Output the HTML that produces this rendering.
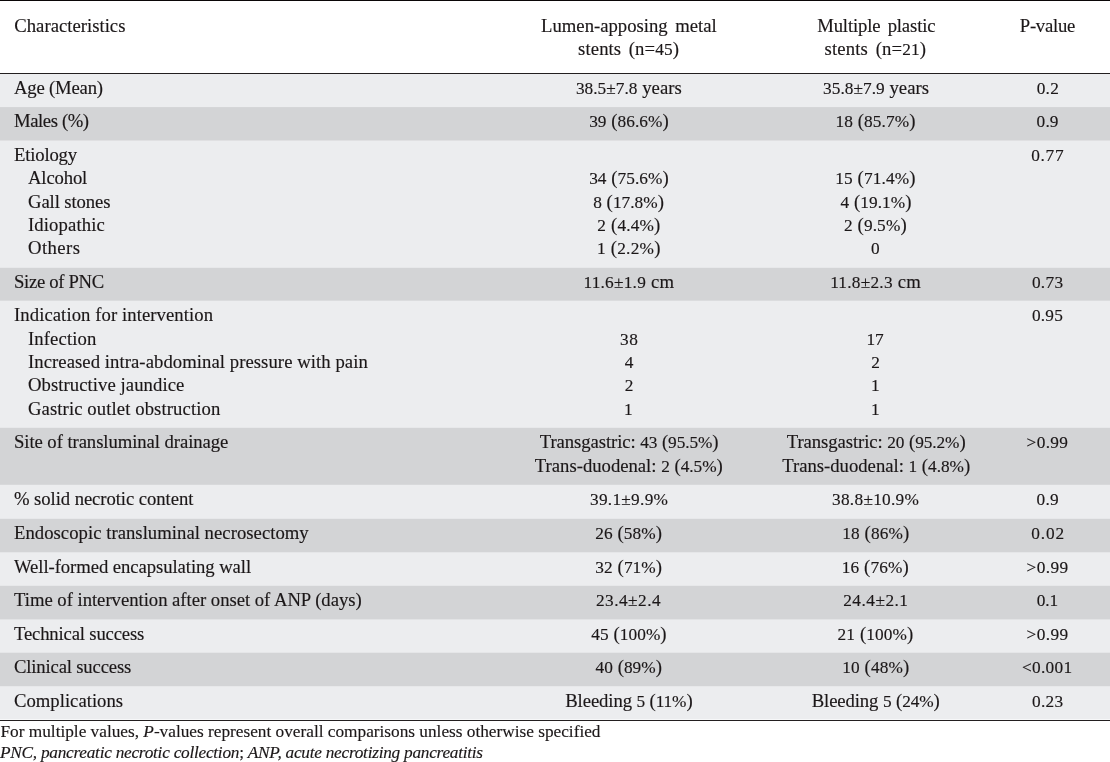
<!DOCTYPE html>
<html><head><meta charset="utf-8"><title>Table</title>
<style>
html,body{margin:0;padding:0;background:#fff}
body{width:1110px;height:762px;position:relative;overflow:hidden;font-family:"Liberation Serif","Times New Roman",serif;color:#1b1718;font-size:18.7px;-webkit-text-stroke:0.15px #1b1718}
.r{position:absolute;left:0;width:1110px}
.t{position:absolute;white-space:nowrap;line-height:24px;height:24px}
.n{font-size:17.3px}
.hl{position:absolute;left:0;width:1110px;background:#231f20}
.f{position:absolute;left:0;white-space:nowrap;font-size:17.3px;line-height:21px}
</style></head><body>

<div class="r" style="top:74px;height:646px;background:linear-gradient(to bottom,#ecedef 0px,#ecedef 33px,#d5d6d8 33px,#d5d6d8 34px,#d3d4d6 34px,#d3d4d6 66px,#e0e0e2 66px,#e0e0e2 67px,#ecedef 67px,#ecedef 193px,#e7e8ea 193px,#e7e8ea 194px,#d3d4d6 194px,#d3d4d6 226px,#dbdcde 226px,#dbdcde 227px,#ecedef 227px,#ecedef 353px,#e7e8ea 353px,#e7e8ea 354px,#d3d4d6 354px,#d3d4d6 410px,#d8d9db 410px,#d8d9db 411px,#ecedef 411px,#ecedef 444px,#e7e8ea 444px,#e7e8ea 445px,#d3d4d6 445px,#d3d4d6 478px,#e5e6e8 478px,#e5e6e8 479px,#ecedef 479px,#ecedef 511px,#e7e8ea 511px,#e7e8ea 512px,#d3d4d6 512px,#d3d4d6 545px,#e2e3e5 545px,#e2e3e5 546px,#ecedef 546px,#ecedef 578px,#e5e6e8 578px,#e5e6e8 579px,#d3d4d6 579px,#d3d4d6 612px,#e7e8ea 612px,#e7e8ea 613px,#ecedef 613px,#ecedef 645px,#f7f8f9 645px,#f7f8f9 646px)"></div>
<div class="hl" style="top:0;height:1px;background:#0a0607"></div>
<div class="hl" style="top:73px;height:1px"></div>
<div class="hl" style="top:720px;height:1px"></div>
<div class="t" style="top:14px;left:14.30px;letter-spacing:0.006px">Characteristics</div>
<div class="t" style="top:76px;left:14.00px;letter-spacing:-0.190px">Age (Mean)</div>
<div class="t" style="top:109px;left:14.00px;letter-spacing:-0.411px">Males (%)</div>
<div class="t" style="top:143px;left:14.00px;letter-spacing:-0.189px">Etiology</div>
<div class="t" style="top:166px;left:28.00px;letter-spacing:-0.151px">Alcohol</div>
<div class="t" style="top:190px;left:28.00px;letter-spacing:-0.106px">Gall stones</div>
<div class="t" style="top:213px;left:28.00px;letter-spacing:0.121px">Idiopathic</div>
<div class="t" style="top:236px;left:28.00px;letter-spacing:0.418px">Others</div>
<div class="t" style="top:270px;left:14.00px;letter-spacing:-0.327px">Size of PNC</div>
<div class="t" style="top:303px;left:14.00px;letter-spacing:0.072px">Indication for intervention</div>
<div class="t" style="top:327px;left:28.00px;letter-spacing:0.108px">Infection</div>
<div class="t" style="top:350px;left:28.00px;letter-spacing:0.057px">Increased intra-abdominal pressure with pain</div>
<div class="t" style="top:373px;left:28.00px;letter-spacing:0.059px">Obstructive jaundice</div>
<div class="t" style="top:397px;left:28.00px;letter-spacing:0.091px">Gastric outlet obstruction</div>
<div class="t" style="top:430px;left:14.00px;letter-spacing:-0.075px">Site of transluminal drainage</div>
<div class="t" style="top:487px;left:14.00px;letter-spacing:-0.077px">% solid necrotic content</div>
<div class="t" style="top:521px;left:14.00px;letter-spacing:0.028px">Endoscopic transluminal necrosectomy</div>
<div class="t" style="top:555px;left:14.00px;letter-spacing:-0.073px">Well-formed encapsulating wall</div>
<div class="t" style="top:588px;left:14.00px;letter-spacing:-0.027px">Time of intervention after onset of ANP (days)</div>
<div class="t" style="top:622px;left:14.00px;letter-spacing:-0.173px">Technical success</div>
<div class="t" style="top:655px;left:14.00px;letter-spacing:-0.175px">Clinical success</div>
<div class="t" style="top:689px;left:14.00px;letter-spacing:0.005px">Complications</div>
<div class="t" style="top:14px;left:541.07px;letter-spacing:-0.001px;word-spacing:2.8px">Lumen-apposing metal</div>
<div class="t" style="top:37.2px;left:578.10px;letter-spacing:0.091px;word-spacing:2.8px">stents (n=<span class="n">45</span>)</div>
<div class="t" style="top:14px;left:817.20px;letter-spacing:-0.154px;word-spacing:2.8px">Multiple plastic</div>
<div class="t" style="top:37.2px;left:824.53px;letter-spacing:0.158px;word-spacing:2.8px">stents (n=<span class="n">21</span>)</div>
<div class="t" style="top:14px;left:1019.76px;letter-spacing:-0.259px">P-value</div>
<div class="t" style="top:76px;left:575.92px;letter-spacing:0.036px"><span class="n">38.5±7.8</span> years</div>
<div class="t" style="top:76px;left:823.02px;letter-spacing:0.048px"><span class="n">35.8±7.9</span> years</div>
<div class="t" style="top:76px;left:1036.65px;letter-spacing:0.292px"><span class="n">0.2</span></div>
<div class="t" style="top:109px;left:589.13px;letter-spacing:0.047px"><span class="n">39</span> (<span class="n">86.6%</span>)</div>
<div class="t" style="top:109px;left:835.49px;letter-spacing:0.108px"><span class="n">18</span> (<span class="n">85.7%</span>)</div>
<div class="t" style="top:109px;left:1036.61px;letter-spacing:0.141px"><span class="n">0.9</span></div>
<div class="t" style="top:143px;left:1031.15px;letter-spacing:0.730px"><span class="n">0.77</span></div>
<div class="t" style="top:166px;left:589.13px;letter-spacing:0.053px"><span class="n">34</span> (<span class="n">75.6%</span>)</div>
<div class="t" style="top:166px;left:835.15px;letter-spacing:0.151px"><span class="n">15</span> (<span class="n">71.4%</span>)</div>
<div class="t" style="top:190px;left:593.23px;letter-spacing:0.039px"><span class="n">8</span> (<span class="n">17.8%</span>)</div>
<div class="t" style="top:190px;left:840.45px;letter-spacing:0.082px"><span class="n">4</span> (<span class="n">19.1%</span>)</div>
<div class="t" style="top:213px;left:597.33px;letter-spacing:0.174px"><span class="n">2</span> (<span class="n">4.4%</span>)</div>
<div class="t" style="top:213px;left:843.94px;letter-spacing:0.132px"><span class="n">2</span> (<span class="n">9.5%</span>)</div>
<div class="t" style="top:236px;left:597.01px;letter-spacing:0.234px"><span class="n">1</span> (<span class="n">2.2%</span>)</div>
<div class="t" style="top:236px;left:871.08px"><span class="n">0</span></div>
<div class="t" style="top:270px;left:583.44px;letter-spacing:0.236px"><span class="n">11.6±1.9</span> cm</div>
<div class="t" style="top:270px;left:830.13px;letter-spacing:0.245px"><span class="n">11.8±2.3</span> cm</div>
<div class="t" style="top:270px;left:1031.95px;letter-spacing:0.282px"><span class="n">0.73</span></div>
<div class="t" style="top:303px;left:1031.92px;letter-spacing:0.211px"><span class="n">0.95</span></div>
<div class="t" style="top:327px;left:619.97px;letter-spacing:0.547px"><span class="n">38</span></div>
<div class="t" style="top:327px;left:866.58px;letter-spacing:-0.162px"><span class="n">17</span></div>
<div class="t" style="top:350px;left:624.64px"><span class="n">4</span></div>
<div class="t" style="top:350px;left:871.29px"><span class="n">2</span></div>
<div class="t" style="top:373px;left:624.84px"><span class="n">2</span></div>
<div class="t" style="top:373px;left:871.09px"><span class="n">1</span></div>
<div class="t" style="top:397px;left:624.05px"><span class="n">1</span></div>
<div class="t" style="top:397px;left:871.09px"><span class="n">1</span></div>
<div class="t" style="top:430px;left:539.77px;letter-spacing:-0.079px">Transgastric: <span class="n">43</span> (<span class="n">95.5%</span>)</div>
<div class="t" style="top:430px;left:786.80px;letter-spacing:-0.077px">Transgastric: <span class="n">20</span> (<span class="n">95.2%</span>)</div>
<div class="t" style="top:430px;left:1026.56px;letter-spacing:0.369px"><span class="n">&gt;0.99</span></div>
<div class="t" style="top:454px;left:534.86px;letter-spacing:-0.013px">Trans-duodenal: <span class="n">2</span> (<span class="n">4.5%</span>)</div>
<div class="t" style="top:454px;left:782.26px;letter-spacing:-0.014px">Trans-duodenal: <span class="n">1</span> (<span class="n">4.8%</span>)</div>
<div class="t" style="top:486.5px;left:589.98px;letter-spacing:0.283px"><span class="n">39.1±9.9%</span></div>
<div class="t" style="top:486.5px;left:832.03px;letter-spacing:0.284px"><span class="n">38.8±10.9%</span></div>
<div class="t" style="top:486.5px;left:1036.62px;letter-spacing:0.166px"><span class="n">0.9</span></div>
<div class="t" style="top:521px;left:595.20px;letter-spacing:0.096px"><span class="n">26</span> (<span class="n">58%</span>)</div>
<div class="t" style="top:521px;left:842.28px;letter-spacing:0.113px"><span class="n">18</span> (<span class="n">86%</span>)</div>
<div class="t" style="top:521px;left:1031.37px;letter-spacing:0.829px"><span class="n">0.02</span></div>
<div class="t" style="top:555px;left:595.28px;letter-spacing:0.102px"><span class="n">32</span> (<span class="n">71%</span>)</div>
<div class="t" style="top:555px;left:841.74px;letter-spacing:0.110px"><span class="n">16</span> (<span class="n">76%</span>)</div>
<div class="t" style="top:555px;left:1026.56px;letter-spacing:0.380px"><span class="n">&gt;0.99</span></div>
<div class="t" style="top:588px;left:596.02px;letter-spacing:0.466px"><span class="n">23.4±2.4</span></div>
<div class="t" style="top:588px;left:843.24px;letter-spacing:0.485px"><span class="n">24.4±2.1</span></div>
<div class="t" style="top:588px;left:1036.68px;letter-spacing:-0.021px"><span class="n">0.1</span></div>
<div class="t" style="top:622px;left:591.35px;letter-spacing:0.062px"><span class="n">45</span> (<span class="n">100%</span>)</div>
<div class="t" style="top:622px;left:837.57px;letter-spacing:0.123px"><span class="n">21</span> (<span class="n">100%</span>)</div>
<div class="t" style="top:622px;left:1026.56px;letter-spacing:0.380px"><span class="n">&gt;0.99</span></div>
<div class="t" style="top:654.6px;left:595.61px;letter-spacing:0.035px"><span class="n">40</span> (<span class="n">89%</span>)</div>
<div class="t" style="top:654.6px;left:842.28px;letter-spacing:0.113px"><span class="n">10</span> (<span class="n">48%</span>)</div>
<div class="t" style="top:654.6px;left:1021.96px;letter-spacing:0.304px"><span class="n">&lt;0.001</span></div>
<div class="t" style="top:689px;left:565.26px;letter-spacing:-0.106px">Bleeding <span class="n">5</span> (<span class="n">11%</span>)</div>
<div class="t" style="top:689px;left:811.69px;letter-spacing:-0.100px">Bleeding <span class="n">5</span> (<span class="n">24%</span>)</div>
<div class="t" style="top:689px;left:1031.95px;letter-spacing:0.297px"><span class="n">0.23</span></div>
<div class="f" style="top:720.5px;left:0.5px;letter-spacing:-0.01px">For multiple values, <i>P</i>-values represent overall comparisons unless otherwise specified</div>
<div class="f" style="top:741.5px;letter-spacing:-0.26px"><i>PNC, pancreatic necrotic collection</i>; <i>ANP, acute necrotizing pancreatitis</i></div>
</body></html>
